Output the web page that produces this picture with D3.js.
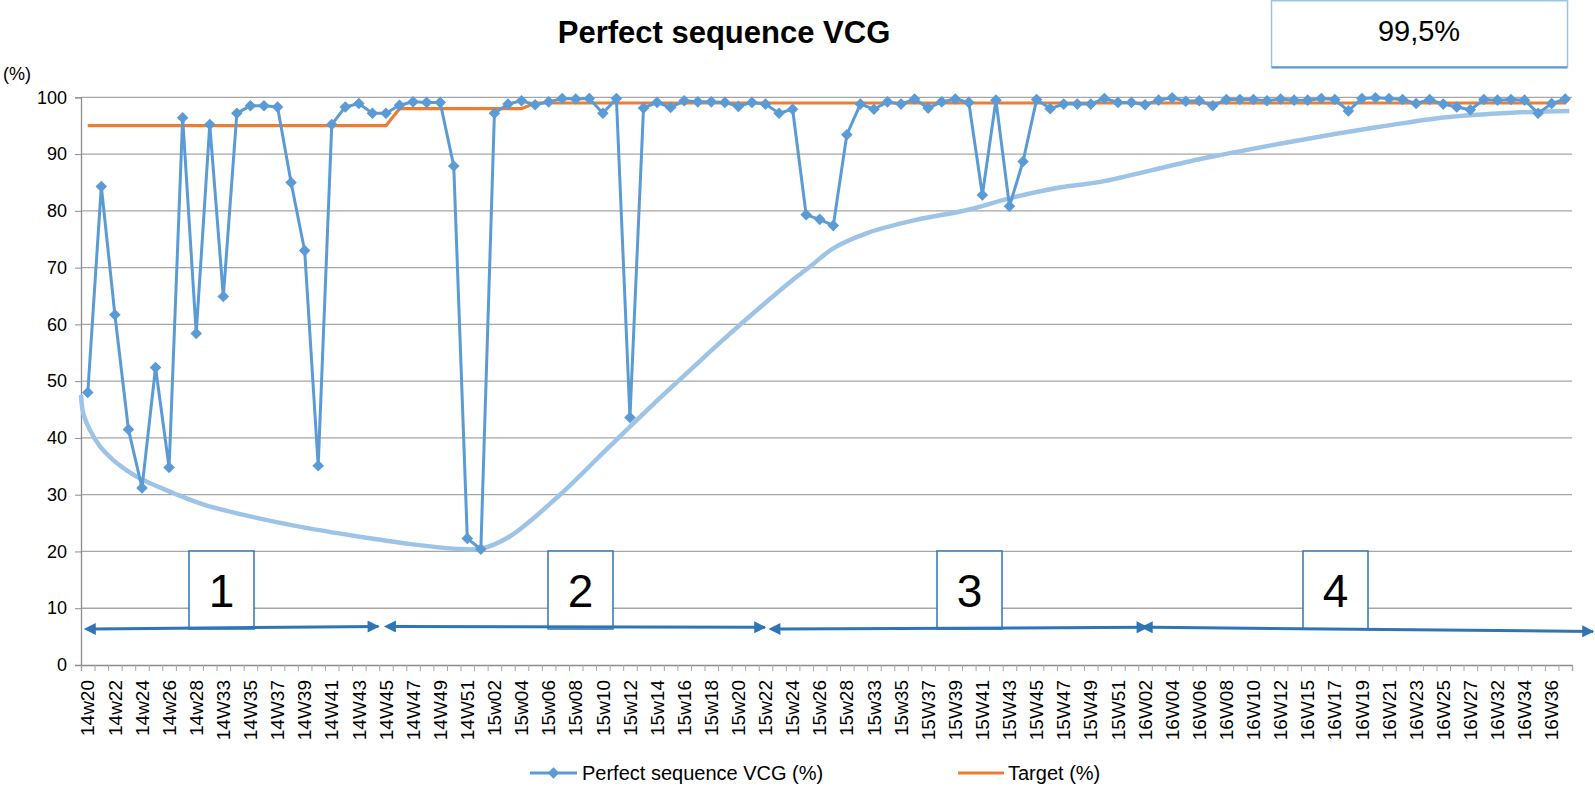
<!DOCTYPE html>
<html>
<head>
<meta charset="utf-8">
<script src="https://cdn.jsdelivr.net/npm/d3@7"></script>
<style>
  html, body { margin: 0; padding: 0; background: #fff; }
  svg { display: block; font-family: "Liberation Sans", Arial, sans-serif; }
</style>
</head>
<body>
<svg id="chart" width="1595" height="789"></svg>
<script>
// ---------------- DATA ----------------
const categories = [
  "14w20","14w21","14w22","14w23","14w24","14w25","14w26","14w27","14w28","14W32",
  "14W33","14W34","14W35","14W36","14W37","14W38","14W39","14W40","14W41","14W42",
  "14W43","14W44","14W45","14W46","14W47","14W48","14W49","14W50","14W51","15w01",
  "15w02","15w03","15w04","15w05","15w06","15w07","15w08","15w09","15w10","15w11",
  "15w12","15w13","15w14","15w15","15w16","15w17","15w18","15w19","15w20","15w21",
  "15w22","15w23","15w24","15w25","15w26","15w27","15w28","15w32","15w33","15w34",
  "15w35","15W36","15W37","15W38","15W39","15W40","15W41","15W42","15W43","15W44",
  "15W45","15W46","15W47","15W48","15W49","15W50","15W51","16W01","16W02","16W03",
  "16W04","16W05","16W06","16W07","16W08","16W09","16W10","16W11","16W12","16W14",
  "16W15","16W16","16W17","16W18","16W19","16W20","16W21","16W22","16W23","16W24",
  "16W25","16W26","16W27","16W31","16W32","16W33","16W34","16W35","16W36","16W37"
];

const perfectSequence = [
  48.0, 84.3, 61.7, 41.5, 31.2, 52.4, 34.8, 96.4, 58.4, 95.2,
  64.9, 97.2, 98.5, 98.5, 98.3, 85.0, 73.0, 35.1, 95.2, 98.3,
  98.9, 97.2, 97.2, 98.6, 99.2, 99.1, 99.1, 87.9, 22.3, 20.4,
  97.2, 98.8, 99.4, 98.7, 99.2, 99.8, 99.7, 99.8, 97.2, 99.8,
  43.6, 98.1, 99.1, 98.2, 99.4, 99.2, 99.2, 99.1, 98.4, 99.1,
  98.8, 97.2, 97.9, 79.3, 78.5, 77.4, 93.4, 98.8, 97.9, 99.2,
  98.8, 99.7, 98.1, 99.2, 99.7, 99.1, 82.8, 99.5, 80.8, 88.7,
  99.6, 98.0, 98.8, 98.8, 98.8, 99.8, 99.1, 99.1, 98.7, 99.5,
  99.9, 99.3, 99.4, 98.5, 99.6, 99.6, 99.6, 99.4, 99.7, 99.5,
  99.5, 99.8, 99.6, 97.6, 99.8, 99.9, 99.8, 99.6, 98.9, 99.6,
  98.8, 98.3, 97.8, 99.6, 99.5, 99.6, 99.5, 97.2, 98.9, 99.7
];

const target = [
  95, 95, 95, 95, 95, 95, 95, 95, 95, 95,
  95, 95, 95, 95, 95, 95, 95, 95, 95, 95,
  95, 95, 95, 98, 98, 98, 98, 98, 98, 98,
  98, 98, 98, 99, 99, 99, 99, 99, 99, 99,
  99, 99, 99, 99, 99, 99, 99, 99, 99, 99,
  99, 99, 99, 99, 99, 99, 99, 99, 99, 99,
  99, 99, 99, 99, 99, 99, 99, 99, 99, 99,
  99, 99, 99, 99, 99, 99, 99, 99, 99, 99,
  99, 99, 99, 99, 99, 99, 99, 99, 99, 99,
  99, 99, 99, 99, 99, 99, 99, 99, 99, 99,
  99, 99, 99, 99, 99, 99, 99, 99, 99, 99
];

// hand-drawn trend curve: position in category index units, value in %
const trendPos = [-0.5, -0.33, 0.16, 0.9, 1.88, 2.87, 3.97, 6.3, 8.5, 12.3, 16, 19.8, 23.5, 27, 29, 31.1, 34.8, 38.5, 42.2, 44.7, 46.6, 52, 53.3, 55, 57.4, 61.1, 64.8, 68, 71.7, 74.7, 82, 89.3, 95.3, 100.2, 105.1, 109.3];
const trendVal = [47.6, 44.3, 41.4, 38.5, 36.1, 34.3, 32.7, 30.3, 28.3, 26.0, 24.2, 22.7, 21.4, 20.5, 20.5, 22.6, 29.9, 38.5, 47.0, 52.5, 56.7, 67.8, 70.2, 73.4, 76.0, 78.4, 80.1, 82.2, 84.1, 85.1, 89.1, 92.4, 94.8, 96.5, 97.3, 97.6];

const yTicks = [0, 10, 20, 30, 40, 50, 60, 70, 80, 90, 100];
const phaseLabels = ["1", "2", "3", "4"];
const titleText = "Perfect sequence VCG";
const kpiText = "99,5%";
const seriesNames = ["Perfect sequence VCG (%)", "Target (%)"];

// ---------------- LAYOUT ----------------
const L = 81, R = 1572, T = 97.3, B = 665;
const blue = "#5B9BD5", orange = "#ED7D31", trendCol = "#9DC3E6", dark = "#2E75B6";
const svg = d3.select("#chart");

const x = d3.scaleBand().domain(categories).range([L, R]).padding(0);
const xi = d3.scaleLinear().domain([0, categories.length]).range([L, R]);
const y = d3.scaleLinear().domain([0, 100]).range([B, T]);
const cx = c => x(c) + x.bandwidth() / 2;

// gridlines
svg.append("g").selectAll("line").data(yTicks.filter(d => d > 0)).join("line")
  .attr("x1", L).attr("x2", R).attr("y1", d => y(d)).attr("y2", d => y(d))
  .attr("stroke", "#A6A6A6").attr("stroke-width", 1.3);

// y axis
const yAxis = svg.append("g").attr("transform", `translate(${L},0)`)
  .call(d3.axisLeft(y).tickValues(yTicks).tickSize(6).tickPadding(8));
yAxis.select(".domain").attr("stroke", "#8C8C8C").attr("stroke-width", 1.3);
yAxis.selectAll(".tick line").attr("stroke", "#8C8C8C");
yAxis.selectAll("text").attr("font-size", 18).attr("fill", "#000")
  .attr("font-family", "Liberation Sans, Arial, sans-serif");

// x axis: tick marks at category boundaries
const xTickAxis = svg.append("g").attr("transform", `translate(0,${B})`)
  .call(d3.axisBottom(xi).tickValues(d3.range(categories.length + 1)).tickSize(6).tickFormat(""));
xTickAxis.select(".domain").attr("stroke", "#8C8C8C").attr("stroke-width", 1.3);
xTickAxis.selectAll(".tick line").attr("stroke", "#A6A6A6");

// x labels every other category
const xLab = svg.append("g").attr("transform", `translate(0,${B})`)
  .call(d3.axisBottom(x).tickValues(categories.filter((d, i) => i % 2 === 0)).tickSize(0));
xLab.select(".domain").remove();
xLab.selectAll("text")
  .attr("font-size", 19).attr("fill", "#000")
  .attr("font-family", "Liberation Sans, Arial, sans-serif")
  .attr("transform", "rotate(-90)")
  .attr("text-anchor", "end")
  .attr("x", -15).attr("y", 0).attr("dy", "0.35em");

// trend curve
const trendData = trendPos.map((p, i) => ({ p, v: trendVal[i] }));
svg.append("path").datum(trendData)
  .attr("d", d3.line().x(d => xi(d.p + 0.5)).y(d => y(d.v)).curve(d3.curveCatmullRom.alpha(0.5)))
  .attr("fill", "none").attr("stroke", trendCol).attr("stroke-width", 4.5);

// target line
svg.append("path").datum(categories.map((c, i) => ({ c, v: target[i] })))
  .attr("d", d3.line().x(d => cx(d.c)).y(d => y(d.v)))
  .attr("fill", "none").attr("stroke", orange).attr("stroke-width", 3.2);

// perfect sequence line
const ps = categories.map((c, i) => ({ c, v: perfectSequence[i] }));
svg.append("path").datum(ps)
  .attr("d", d3.line().x(d => cx(d.c)).y(d => y(d.v)))
  .attr("fill", "none").attr("stroke", blue).attr("stroke-width", 3);
const diamond = "M0,-5.8L5.8,0L0,5.8L-5.8,0Z";
svg.append("g").selectAll("path").data(ps).join("path")
  .attr("d", diamond)
  .attr("transform", d => `translate(${cx(d.c)},${y(d.v)})`)
  .attr("fill", blue);

// title
svg.append("text").attr("x", 724).attr("y", 43).attr("text-anchor", "middle")
  .attr("font-size", 31).attr("font-weight", "bold").attr("fill", "#000").text(titleText);

// (%) label
svg.append("text").attr("x", 3).attr("y", 80).attr("font-size", 18).attr("fill", "#000").text("(%)");

// KPI box
svg.append("rect").attr("x", 1271.5).attr("y", 0.75).attr("width", 296).attr("height", 66)
  .attr("fill", "#fff").attr("stroke", "#9DC3E6").attr("stroke-width", 1.5);
svg.append("line").attr("x1", 1271.5).attr("x2", 1567.5).attr("y1", 67.5).attr("y2", 67.5)
  .attr("stroke", blue).attr("stroke-width", 2);
svg.append("text").attr("x", 1419).attr("y", 41).attr("text-anchor", "middle")
  .attr("font-size", 29).attr("fill", "#000").text(kpiText);

// phase boxes and arrows
const boxX = [189, 548, 937, 1303];
phaseLabels.forEach((t, i) => {
  svg.append("rect").attr("x", boxX[i]).attr("y", 551).attr("width", 65).attr("height", 78)
    .attr("fill", "#fff").attr("stroke", dark).attr("stroke-width", 1.5);
  svg.append("text").attr("x", boxX[i] + 32.5).attr("y", 607).attr("text-anchor", "middle")
    .attr("font-size", 46).attr("fill", "#000").text(t);
});

const defs = svg.append("defs");
["s", "e"].forEach(k => {
  defs.append("marker").attr("id", "ah" + k).attr("viewBox", "0 0 10 10")
    .attr("refX", k === "e" ? 9 : 1).attr("refY", 5)
    .attr("markerWidth", 4.5).attr("markerHeight", 4)
    .attr("markerUnits", "strokeWidth").attr("orient", "auto-start-reverse")
    .append("path").attr("d", "M0,0L10,5L0,10Z").attr("fill", dark);
});
const arrows = [
  [94.6, 629, 378.4, 626.5],
  [394.7, 626.5, 765, 627.3],
  [779.2, 629, 1147.4, 627.3],
  [1151.5, 627.3, 1593, 631.4]
];
arrows.forEach(a => {
  svg.append("line").attr("x1", a[0]).attr("y1", a[1]).attr("x2", a[2]).attr("y2", a[3])
    .attr("stroke", dark).attr("stroke-width", 3)
    .attr("marker-start", "url(#ahs)").attr("marker-end", "url(#ahe)");
});

// legend
const lg = svg.append("g");
lg.append("line").attr("x1", 530).attr("x2", 577).attr("y1", 773).attr("y2", 773)
  .attr("stroke", blue).attr("stroke-width", 3);
lg.append("path").attr("d", diamond).attr("transform", "translate(553.5,773)").attr("fill", blue);
lg.append("text").attr("x", 582).attr("y", 773).attr("dy", "0.35em").attr("font-size", 20)
  .attr("fill", "#000").text(seriesNames[0]);
lg.append("line").attr("x1", 958).attr("x2", 1004).attr("y1", 773).attr("y2", 773)
  .attr("stroke", orange).attr("stroke-width", 3.2);
lg.append("text").attr("x", 1008).attr("y", 773).attr("dy", "0.35em").attr("font-size", 20)
  .attr("fill", "#000").text(seriesNames[1]);
</script>
</body>
</html>
